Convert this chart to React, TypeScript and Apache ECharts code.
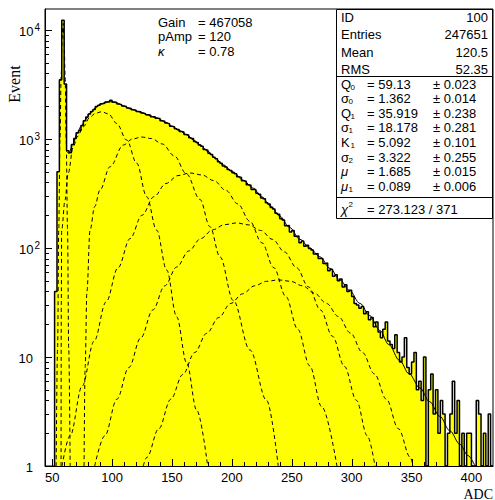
import React, { useEffect, useRef } from "react";
import * as echarts from "echarts";

// ---------- data ----------
const binStart = 52;
const binWidth = 2;
// histogram contents, one value per 2-ADC bin, 52 .. 418
const counts: number[] = [
  40, 500, 3500, 12300, 3200, 780, 750, 890, 1010, 1140,
  1200, 1330, 1470, 1590, 1700, 1790, 1870, 1990, 2040, 2110,
  2130, 2190, 2200, 2270, 2190, 2160, 2100, 2070, 2010, 1990,
  1930, 1910, 1860, 1840, 1790, 1780, 1730, 1710, 1670, 1660,
  1600, 1600, 1550, 1540, 1470, 1460, 1400, 1380, 1310, 1300,
  1240, 1220, 1170, 1160, 1100, 1090, 1030, 1010, 950, 930,
  880, 860, 800, 790, 740, 720, 680, 660, 620, 600,
  565, 555, 525, 515, 490, 480, 450, 445, 415, 410,
  380, 376, 345, 345, 318, 312, 288, 283, 260, 254,
  235, 228, 208, 204, 186, 181, 160, 161, 140, 145,
  128, 129, 112, 116, 104, 106, 99, 96, 88, 89,
  80, 80, 72, 73, 62, 64, 55, 57, 50, 52,
  44, 46, 40, 41,
  36, 31, 30, 28, 29, 25, 26, 22, 23, 19,
  21, 17, 15, 18, 21, 14, 13, 12, 16, 11,
  9, 10, 15, 8, 7, 9, 11, 5, 6, 4,
  10, 1, 5, 7, 3, 5, 2, 4, 3, 1,
  2, 3, 6, 2, 4, 0, 2, 1, 2, 2,
  1, 0, 4, 3, 0, 2, 1, 3, 0,
];

// total fit (solid line)
const fitTotal: number[][] = [
  [62.5, 760], [64, 740], [67.4, 900], [70.7, 1120], [74, 1300], [78, 1520], [81.6, 1720],
  [86, 1930], [90, 2080], [95, 2180], [99, 2200], [104, 2140], [110, 2000], [116, 1880],
  [123.3, 1770], [130, 1660], [137.5, 1560], [145, 1420], [150.8, 1300], [156, 1200],
  [162.5, 1090], [168, 980], [173.4, 885], [180, 770], [186, 670], [192.6, 580],
  [200.9, 500], [209.3, 420], [217.6, 355], [225, 295], [232, 245], [240.2, 195],
  [248, 155], [256.9, 120], [265, 100], [273.5, 83], [282, 65], [290.2, 51], [298, 41],
  [307, 31], [315, 24], [323.6, 17.5], [331, 13], [340, 9.3], [348, 7], [357, 5.2],
  [365, 3.9], [373.7, 2.85], [382, 2.1], [390.4, 1.58], [397, 1.25], [403, 1],
];

// fit components (dashed)
const pedestalCurve: number[][] = [
  [53.3, 1], [54.5, 12], [55.5, 150], [56.5, 1000], [57.5, 3900], [58.3, 8500], [59.1, 11500],
  [59.9, 8500], [60.8, 3900], [61.7, 1000], [62.8, 150], [63.8, 12], [65, 1],
];
const pe1Curve: number[][] = [
  [57.4, 1], [57.6, 30], [57.9, 146], [60.7, 276], [63.4, 488], [67.6, 850], [71, 1050],
  [76, 1297], [81.6, 1592], [86, 1720], [91.3, 1780], [97, 1700], [103.8, 1393],
  [112.2, 979], [120.5, 603], [128.9, 296], [137.2, 146], [145.6, 62.8], [153.9, 23.4],
  [162.3, 8.8], [170.6, 3.26], [179.8, 1],
];
const pe2Curve: number[][] = [
  [76.6, 1], [77.5, 8], [79, 40], [81.6, 146], [85.5, 240], [89.9, 341], [98.3, 557],
  [109.4, 881], [117, 1000], [124.7, 1043], [133, 1010], [142, 900], [152, 700],
  [162, 480], [173.4, 279], [181.7, 157], [190.1, 83], [201.2, 33], [215.1, 11.6],
  [229, 4], [238.7, 1],
];
const pe3Curve: number[][] = [
  [58.2, 1], [65, 1.9], [75, 5.4], [85, 14], [95, 32], [105, 66], [115, 122], [125, 200],
  [135, 296], [145, 391], [155, 462], [165, 488], [175, 468], [185, 415], [195, 338],
  [205, 254], [215, 176], [225, 112], [235, 66], [245, 36], [255, 18], [265, 8.3],
  [275, 3.5], [287.7, 1],
];
const pe4Curve: number[][] = [
  [85.5, 1], [94, 1.9], [104, 4.1], [114, 8], [124, 15], [134, 27], [144, 45], [154, 67],
  [164, 94], [174, 122], [184, 147], [194, 164], [204, 170], [214, 163], [224, 145],
  [234, 120], [244, 92], [254, 66], [264, 44], [274, 27], [284, 15.5], [294, 8.2],
  [304, 4], [313, 1.9], [319.5, 1],
];
const pe5Curve: number[][] = [
  [126, 1], [129, 1.2], [139, 2.2], [149, 4.1], [159, 6.9], [169, 11], [179, 16.5],
  [189, 23], [199, 31], [209, 38], [219, 45], [229, 49.5], [239, 51], [249, 49.5],
  [259, 45], [269, 38.5], [279, 31], [289, 23.5], [299, 16.6], [309, 11], [319, 7],
  [329, 4.1], [339, 2.2], [349, 1.2], [351.2, 1],
];

const xTickLabels = [50, 100, 150, 200, 250, 300, 350, 400];
const yTickLabels = [1, 10, 100, 1000, 10000];

const gainRows = [
  ["Gain", "= 467058"],
  ["pAmp", "= 120"],
  ["κ", "= 0.78"],
];
const statsRows = [
  ["ID", "100"],
  ["Entries", "247651"],
  ["Mean", "120.5"],
  ["RMS", "52.35"],
];
const fitRows = [
  ["Q", "0", "= 59.13", "± 0.023"],
  ["σ", "0", "= 1.362", "± 0.014"],
  ["Q", "1", "= 35.919", "± 0.238"],
  ["σ", "1", "= 18.178", "± 0.281"],
  ["K", "1", "= 5.092", "± 0.101"],
  ["σ", "2", "= 3.322", "± 0.255"],
  ["μ", "", "= 1.685", "± 0.015"],
  ["μ", "1", "= 0.089", "± 0.006"],
];
const chi2Text = "= 273.123 / 371";

// ---------- chart ----------
const FONT = '"Liberation Sans", Arial, sans-serif';
const SERIF = '"Liberation Serif", "Times New Roman", serif';
const X_MIN = 44;
const X_MAX = 418;
const Y_MIN = 1;
const Y_MAX = 15600;

export default function App() {
  const ref = useRef<HTMLDivElement>(null);

  useEffect(() => {
    if (!ref.current) return;
    const chart = echarts.init(ref.current, null, { renderer: "svg" });

    const histData: number[][] = [[binStart, Y_MIN]];
    counts.forEach((c, i) => histData.push([binStart + i * binWidth, Math.max(c, Y_MIN)]));
    histData.push([binStart + counts.length * binWidth, Math.max(counts[counts.length - 1], Y_MIN)]);

    const xTicks: number[][] = [];
    for (let v = 50; v <= 410; v += 10) xTicks.push([v, Y_MIN, v % 50 === 0 ? 7 : 4]);
    const yTicks: number[][] = [];
    yTickLabels.forEach((d) => {
      yTicks.push([X_MIN, d, 7]);
      for (let m = 2; m <= 9; m++) if (m * d <= Y_MAX) yTicks.push([X_MIN, m * d, 4]);
    });

    const dashed = (data: number[][]) => ({
      type: "line",
      data,
      smooth: 0.35,
      smoothMonotone: "x",
      symbol: "none",
      silent: true,
      lineStyle: { color: "#000", width: 1, type: [4, 3] },
      z: 3,
    });

    const graphic: any[] = [];
    const t = (x: number, y: number, text: string, opts: any = {}) =>
      graphic.push({
        type: "text",
        x,
        y,
        z: 20,
        style: {
          text,
          font: `${opts.italic ? "italic " : ""}${opts.size || 13}px ${opts.family || FONT}`,
          fill: "#000",
          align: opts.align || "left",
          verticalAlign: "middle",
        },
        rotation: opts.rotation || 0,
      });

    // axis titles
    t(14, 84, "Event", { family: SERIF, size: 16, align: "center", rotation: Math.PI / 2 });
    t(493, 494, "ADC", { family: SERIF, size: 14, align: "right" });

    // gain block
    gainRows.forEach((r, i) => {
      const y = 22 + i * 14.5;
      t(158, y, r[0], { italic: r[0] === "κ" });
      t(198, y, r[1]);
    });

    // stats box
    graphic.push({
      type: "rect",
      z: 15,
      shape: { x: 336.5, y: 9.5, width: 156, height: 209 },
      style: { fill: "#fff", stroke: "#000", lineWidth: 1 },
    });
    [76.5, 197.5].forEach((y) =>
      graphic.push({
        type: "line",
        z: 16,
        shape: { x1: 336.5, y1: y, x2: 492.5, y2: y },
        style: { stroke: "#000", lineWidth: 1 },
      })
    );
    statsRows.forEach((r, i) => {
      const y = 17 + i * 17.5;
      t(341, y, r[0]);
      t(488, y, r[1], { align: "right" });
    });
    fitRows.forEach((r, i) => {
      const y = 84 + i * 14.6;
      const italic = r[0] === "μ";
      t(341, y, r[0], { italic });
      if (r[1]) {
        const w = r[0] === "Q" || r[0] === "K" ? 9.5 : 7.5;
        t(341 + w, y + 3, r[1], { size: 8 });
      }
      t(367, y, r[2]);
      t(433, y, r[3]);
    });
    t(341, 209, "χ", { italic: true });
    t(348.5, 204, "2", { size: 8 });
    t(367, 209, chi2Text);

    const option: any = {
      animation: false,
      textStyle: { fontFamily: FONT },
      grid: {
        left: 45,
        top: 9,
        right: 2,
        bottom: 34,
        show: true,
        borderColor: "#000",
        borderWidth: 1,
        backgroundColor: "transparent",
      },
      xAxis: {
        type: "value",
        min: X_MIN,
        max: X_MAX,
        axisLine: { show: true, onZero: false, lineStyle: { color: "#000", width: 1 } },
        axisTick: { show: false },
        splitLine: { show: false },
        axisLabel: {
          customValues: xTickLabels,
          margin: 5,
          fontSize: 13,
          lineHeight: 13,
          color: "#000",
          fontFamily: FONT,
        },
      },
      yAxis: {
        type: "log",
        logBase: 10,
        min: Y_MIN,
        max: Y_MAX,
        axisLine: { show: true, lineStyle: { color: "#000", width: 1 } },
        axisTick: { show: false },
        splitLine: { show: false },
        minorTick: { show: false },
        axisLabel: {
          margin: 5,
          color: "#000",
          formatter: (v: number) => {
            const e = Math.log10(v);
            const r = Math.round(e);
            if (Math.abs(e - r) > 1e-6 || !yTickLabels.includes(Math.pow(10, r))) return "";
            if (r === 0) return "{b|1}{p| }";
            if (r === 1) return "{b|10}{p| }";
            return "{b|10}{e|" + r + "}";
          },
          rich: {
            b: { fontSize: 13, fontFamily: FONT, color: "#000", verticalAlign: "bottom", lineHeight: 16 },
            e: { fontSize: 10, fontFamily: FONT, color: "#000", verticalAlign: "bottom", lineHeight: 16, padding: [0, 0, 6, 1] },
            p: { width: 7, fontSize: 13 },
          },
        },
      },
      series: [
        {
          type: "line",
          data: histData,
          step: "end",
          symbol: "none",
          silent: true,
          lineStyle: { color: "#000", width: 1.5 },
          areaStyle: { color: "#ffff00", opacity: 1, origin: "start" },
          z: 2,
        },
        dashed(pedestalCurve),
        dashed(pe1Curve),
        dashed(pe2Curve),
        dashed(pe3Curve),
        dashed(pe4Curve),
        dashed(pe5Curve),
        {
          type: "line",
          data: fitTotal,
          smooth: 0.35,
          smoothMonotone: "x",
          symbol: "none",
          silent: true,
          lineStyle: { color: "#000", width: 1 },
          z: 4,
        },
        {
          type: "custom",
          data: xTicks,
          silent: true,
          z: 5,
          renderItem: (_p: any, api: any) => {
            const p = api.coord([api.value(0), api.value(1)]);
            const x = Math.round(p[0]) + 0.5;
            return {
              type: "line",
              shape: { x1: x, y1: p[1], x2: x, y2: p[1] - api.value(2) },
              style: { stroke: "#000", lineWidth: 1 },
            };
          },
        },
        {
          type: "custom",
          data: yTicks,
          silent: true,
          z: 5,
          renderItem: (_p: any, api: any) => {
            const p = api.coord([api.value(0), api.value(1)]);
            const y = Math.round(p[1]) + 0.5;
            return {
              type: "line",
              shape: { x1: p[0], y1: y, x2: p[0] + api.value(2), y2: y },
              style: { stroke: "#000", lineWidth: 1 },
            };
          },
        },
      ],
      graphic,
    };

    chart.setOption(option);
    return () => chart.dispose();
  }, []);

  return (
    <div
      ref={ref}
      style={{ position: "absolute", left: 0, top: 0, width: 495, height: 500, background: "#fff" }}
    />
  );
}
